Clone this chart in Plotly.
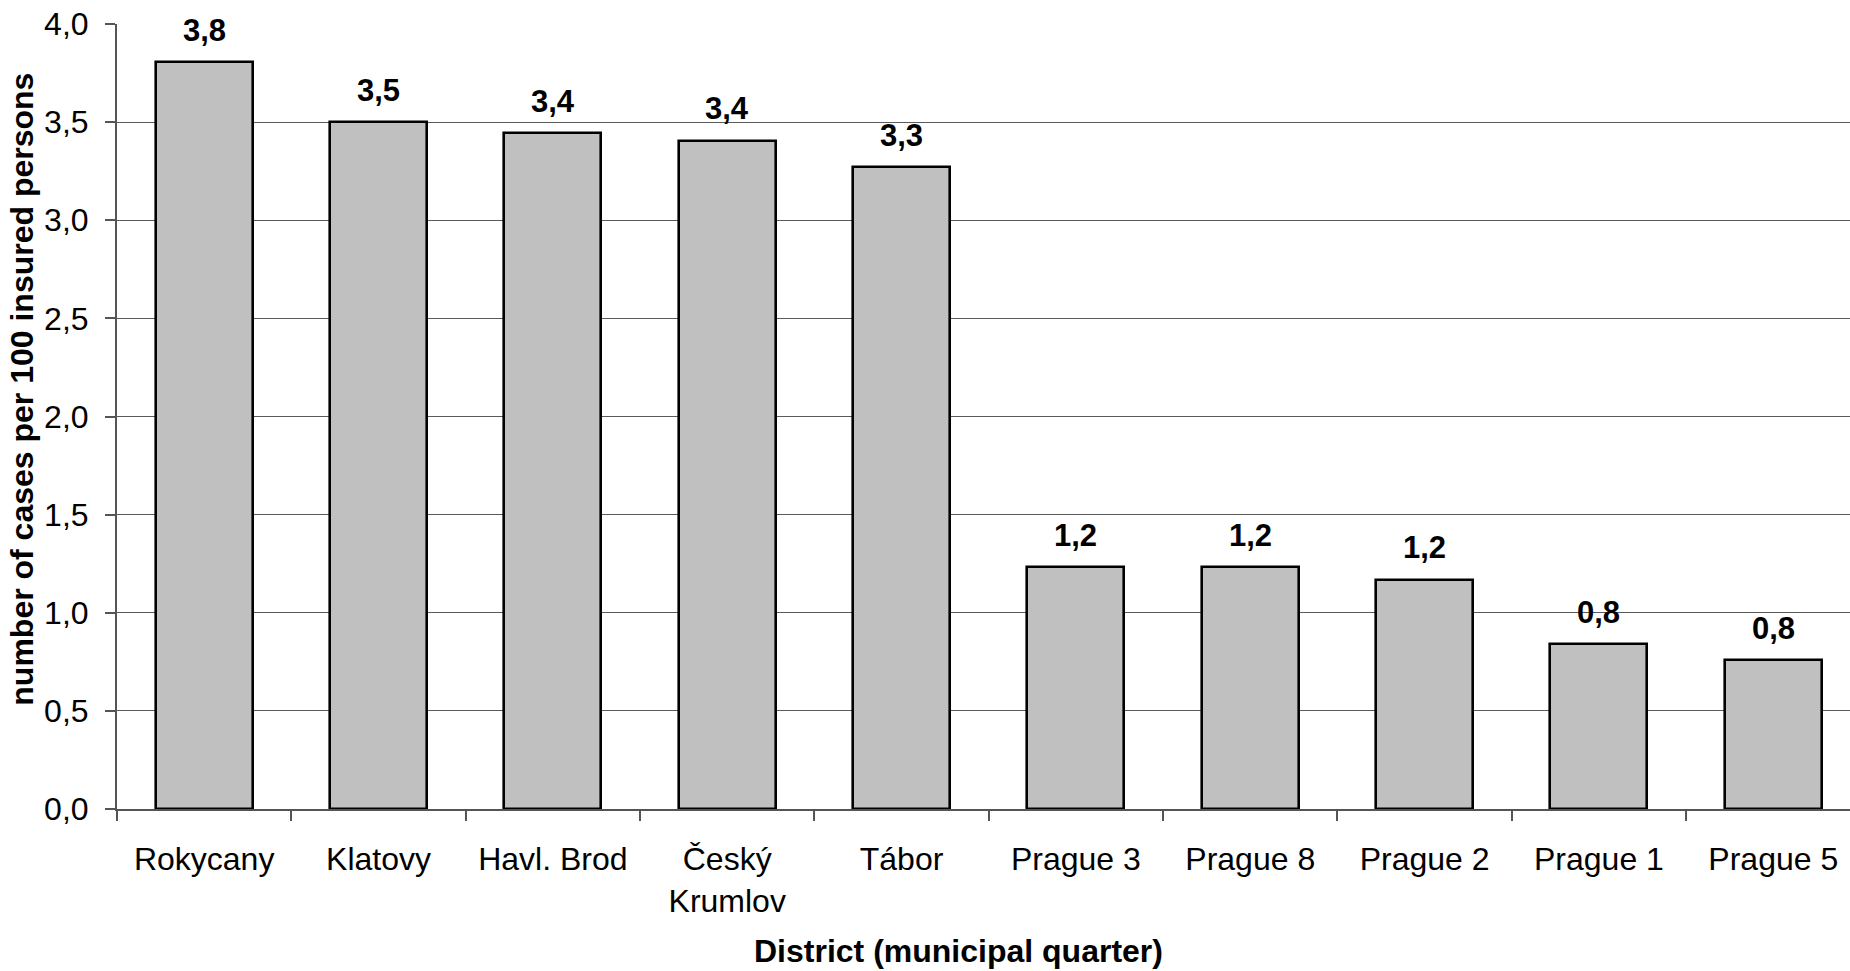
import plotly.graph_objects as go

# Incidence by district, cases per 100 insured persons
districts = ["Rokycany", "Klatovy", "Havl. Brod", "Český<br>Krumlov", "Tábor",
             "Prague 3", "Prague 8", "Prague 2", "Prague 1", "Prague 5"]
cases_per_100 = [3.805, 3.50, 3.443, 3.404, 3.271, 1.232, 1.232, 1.169, 0.839, 0.759]

y_ticks = [0.0, 0.5, 1.0, 1.5, 2.0, 2.5, 3.0, 3.5, 4.0]

FONT = "Liberation Sans, Arial, sans-serif"

fig = go.Figure()
fig.add_trace(go.Bar(
    x=districts,
    y=cases_per_100,
    width=0.556,
    marker=dict(color="#C0C0C0", line=dict(color="#000000", width=2.6)),
    showlegend=False,
    hoverinfo="skip",
))

# value labels above each bar, formatted with a decimal comma
for name, v in zip(districts, cases_per_100):
    fig.add_annotation(
        x=name, y=v, xref="x", yref="y",
        text="<b>" + f"{v:.1f}".replace(".", ",") + "</b>",
        showarrow=False, yanchor="middle", yshift=32,
        font=dict(family=FONT, size=31, color="#000000"),
    )

# axis titles
fig.add_annotation(
    x=0.4853, y=-0.1815, xref="paper", yref="paper",
    text="<b>District (municipal quarter)</b>", showarrow=False,
    xanchor="center", yanchor="middle",
    font=dict(family=FONT, size=32, color="#000000"),
)
fig.add_annotation(
    x=-0.055, y=0.535, xref="paper", yref="paper",
    text="<b>number of cases per 100 insured persons</b>", showarrow=False,
    textangle=-90, xanchor="center", yanchor="middle",
    font=dict(family=FONT, size=32, color="#000000"),
)

fig.update_layout(
    width=1850, height=971,
    margin=dict(l=117, r=0, t=24, b=162, pad=0),
    paper_bgcolor="#FFFFFF", plot_bgcolor="#FFFFFF",
    separators=", ",
    font=dict(family=FONT, size=32, color="#000000"),
    bargap=0,
)
fig.update_xaxes(
    type="category",
    range=[-0.5, 9.44],
    tickson="boundaries",
    ticks="outside", ticklen=10, tickcolor="#555555", tickwidth=1.5,
    showline=True, linecolor="#555555", linewidth=1.5,
    showgrid=False, zeroline=False,
    tickfont=dict(family=FONT, size=32, color="#000000"),
    ticklabelstandoff=21,
)
fig.update_yaxes(
    range=[0, 4],
    tickmode="array", tickvals=y_ticks,
    tickformat=".1f",
    ticks="outside", ticklen=10, tickcolor="#555555", tickwidth=1.5,
    showline=True, linecolor="#555555", linewidth=2,
    showgrid=True, gridcolor="#5a5a5a", gridwidth=1.2,
    zeroline=False,
    tickfont=dict(family=FONT, size=32, color="#000000"),
    ticklabelstandoff=10,
)

fig.write_html("out.html")
